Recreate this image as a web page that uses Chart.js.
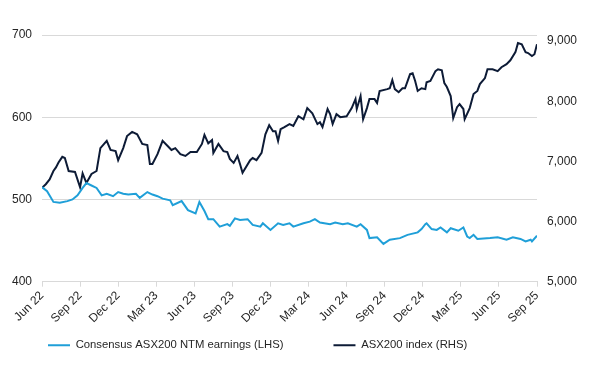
<!DOCTYPE html>
<html lang="en">
<head>
  <meta charset="UTF-8">
  <title>ASX200 earnings vs index</title>
  <script src="https://cdn.jsdelivr.net/npm/chart.js"></script>
  <style>
    body { margin: 0; background: #fff; }
    #wrap { width: 592px; height: 368px; position: relative; }
  </style>
</head>
<body>
  <div id="wrap"><canvas id="chart"></canvas></div>

  <script>
    // quarter tick labels, x = months since Jun 22
    const xLabels = ["Jun 22", "Sep 22", "Dec 22", "Mar 23", "Jun 23", "Sep 23", "Dec 23",
      "Mar 24", "Jun 24", "Sep 24", "Dec 24", "Mar 25", "Jun 25", "Sep 25"];
    const leftTicks = [400, 500, 600, 700];
    const rightTicks = [5000, 6000, 7000, 8000, 9000];

    const earnMonths = [0, 0.4, 0.9, 1.4, 2.0, 2.4, 2.8, 3.2, 3.5, 3.9, 4.3, 4.7, 5.1, 5.6, 6.0, 6.4,
      6.8, 7.4, 7.7, 8.3, 8.7, 9.1, 9.5, 10.1, 10.3, 11.0, 11.5, 12.1, 12.4, 12.8, 13.1, 13.5,
      14.0, 14.6, 14.8, 15.2, 15.6, 16.2, 16.6, 17.2, 17.4, 18.0, 18.6, 19.0, 19.5, 19.8, 20.6,
      21.1, 21.5, 21.9, 22.7, 23.1, 23.7, 24.1, 24.8, 25.1, 25.6, 25.8, 26.4, 26.9, 27.4, 28.2,
      28.8, 29.6, 29.9, 30.2, 30.3, 30.7, 31.1, 31.4, 31.9, 32.2, 32.8, 33.2, 33.5, 33.7, 34.0,
      34.3, 35.3, 35.9, 36.6, 37.1, 37.7, 38.1, 38.5, 38.6, 39.0];
    const earnValues = [515, 510, 497, 496, 498, 500, 505, 514, 520, 517, 514, 505, 507, 504, 509, 507,
      506, 507, 502, 509, 506, 504, 501, 499, 493, 498, 487, 483, 497, 486, 476, 476,
      467, 470, 468, 477, 475, 476, 469, 467, 471, 463, 471, 469, 471, 467, 471,
      473, 476, 472, 470, 472, 470, 471, 467, 470, 463, 453, 454, 446, 451, 453,
      457, 460, 464, 470, 471, 464, 463, 466, 460, 465, 462, 466, 455, 453, 457,
      452, 453, 454, 451, 454, 452, 449, 451, 449, 456];

    const indexMonths = [0, 0.3, 0.6, 0.9, 1.1, 1.3, 1.6, 1.8, 2.1, 2.6, 3.0, 3.2, 3.5, 3.9, 4.3, 4.6, 5.1, 5.4,
      5.8, 6.0, 6.4, 6.7, 7.1, 7.5, 7.9, 8.3, 8.5, 8.7, 9.1, 9.5, 9.9, 10.2, 10.5, 10.9, 11.3,
      11.7, 12.2, 12.6, 12.8, 13.1, 13.4, 13.5, 13.9, 14.3, 14.6, 14.8, 15.1, 15.4, 15.6, 15.8,
      16.4, 16.6, 16.9, 17.3, 17.6, 17.9, 18.2, 18.4, 18.6, 18.8, 19.1, 19.5, 19.8, 20.2, 20.6,
      20.9, 21.3, 21.7, 21.9, 22.1, 22.5, 22.7, 22.9, 23.2, 23.5, 24.0, 24.4, 24.7, 24.8, 25.1,
      25.3, 25.6, 25.8, 26.2, 26.4, 26.6, 27.2, 27.4, 27.6, 27.8, 28.1, 28.4, 28.6, 29.0, 29.2,
      29.4, 29.6, 29.9, 30.2, 30.3, 30.6, 31.0, 31.2, 31.5, 31.7, 31.9, 32.2, 32.4, 32.7, 32.9,
      33.2, 33.3, 33.7, 34.0, 34.3, 34.5, 34.9, 35.1, 35.5, 35.9, 36.2, 36.6, 36.9, 37.3, 37.5,
      37.8, 38.1, 38.3, 38.6, 38.8, 39.0];
    const indexValues = [6560, 6620, 6700, 6840, 6900, 6980, 7075, 7056, 6840, 6825, 6570, 6800, 6640, 6790, 6840, 7220, 7340, 7190,
      7170, 7020, 7220, 7420, 7490, 7450, 7290, 7270, 6955, 6955, 7120, 7340, 7255, 7190, 7220, 7120, 7090,
      7155, 7155, 7290, 7440, 7300, 7355, 7140, 7290, 7170, 7155, 7040, 6975, 7090, 6955, 6810,
      7020, 7055, 7020, 7140, 7450, 7600, 7500, 7500, 7340, 7535, 7570, 7620, 7590, 7750, 7700,
      7885, 7800, 7620, 7650, 7570, 7870, 7785, 7620, 7785, 7735, 7750, 7885, 8035, 7870, 8085,
      7700, 7885, 8035, 8035, 7970, 8170, 8200, 8215, 8350, 8200, 8150, 8215, 8215, 8450, 8465,
      8335, 8170, 8215, 8200, 8315, 8335, 8500, 8530, 8515, 8300, 8235, 8085, 7720, 7900, 7950,
      7870, 7700, 7885, 8120, 8170, 8285, 8385, 8530, 8530, 8500, 8565, 8615, 8680, 8815, 8965,
      8945, 8815, 8800, 8750, 8780, 8945];

    const textColor = "#262626";
    const gridColor = "#d9d9d9";
    const fontFamily = "'Liberation Sans', Arial, sans-serif";
    const font = { family: fontFamily, size: 12 };
    const legendGap = 50;

    // legend uses a wide gap between items; pull the box back up by the
    // extra height that gap adds, and start it at the left like the source
    const legendShift = {
      id: "legendShift",
      afterLayout(chart) {
        const lg = chart.legend;
        lg.top -= legendGap - 10;
        lg.bottom -= legendGap - 10;
        lg.left = -2;
        lg.right = 592;
      }
    };

    new Chart(document.getElementById("chart"), {
      type: "line",
      data: {
        datasets: [
          {
            label: "Consensus ASX200 NTM earnings (LHS)",
            data: earnMonths.map((m, i) => ({ x: m, y: earnValues[i] })),
            borderColor: "#1f9fd8",
            backgroundColor: "#1f9fd8",
            borderWidth: 2,
            pointRadius: 0,
            tension: 0,
            yAxisID: "yL"
          },
          {
            label: "ASX200 index (RHS)",
            data: indexMonths.map((m, i) => ({ x: m, y: indexValues[i] })),
            borderColor: "#0d1b36",
            backgroundColor: "#0d1b36",
            borderWidth: 2,
            pointRadius: 0,
            tension: 0,
            yAxisID: "yR"
          }
        ]
      },
      options: {
        responsive: true,
        maintainAspectRatio: false,
        animation: false,
        layout: { padding: { top: 35, bottom: 7 - (legendGap - 10), left: 0, right: 0 } },
        plugins: {
          tooltip: { enabled: false },
          legend: {
            position: "bottom",
            align: "start",
            labels: {
              color: textColor,
              font: { family: fontFamily, size: 11.3 },
              usePointStyle: true,
              pointStyle: "line",
              pointStyleWidth: 22,
              boxHeight: 12,
              padding: legendGap
            }
          }
        },
        scales: {
          x: {
            type: "linear",
            min: 0,
            max: 39,
            afterBuildTicks: s => { s.ticks = xLabels.map((_, i) => ({ value: i * 3 })); },
            afterFit: s => { s.height = 48; },
            ticks: {
              color: textColor,
              font: font,
              autoSkip: false,
              maxRotation: 45,
              minRotation: 45,
              padding: 2,
              callback: v => xLabels[Math.round(v / 3)]
            },
            grid: { drawOnChartArea: false, drawTicks: true, tickLength: 5, color: gridColor },
            border: { color: gridColor }
          },
          yL: {
            position: "left",
            min: 400,
            max: 700,
            afterBuildTicks: s => { s.ticks = leftTicks.map(v => ({ value: v })); },
            afterFit: s => { s.width = 42; },
            ticks: { color: textColor, font: font, padding: 10 },
            grid: { color: gridColor, drawTicks: false },
            border: { display: false }
          },
          yR: {
            position: "right",
            min: 5000,
            max: 9100,
            afterBuildTicks: s => { s.ticks = rightTicks.map(v => ({ value: v })); },
            afterFit: s => { s.width = 55; },
            ticks: {
              color: textColor,
              font: font,
              padding: 10,
              callback: v => v.toLocaleString("en-US")
            },
            grid: { display: false, drawTicks: false },
            border: { display: false }
          }
        }
      },
      plugins: [legendShift]
    });
  </script>
</body>
</html>
